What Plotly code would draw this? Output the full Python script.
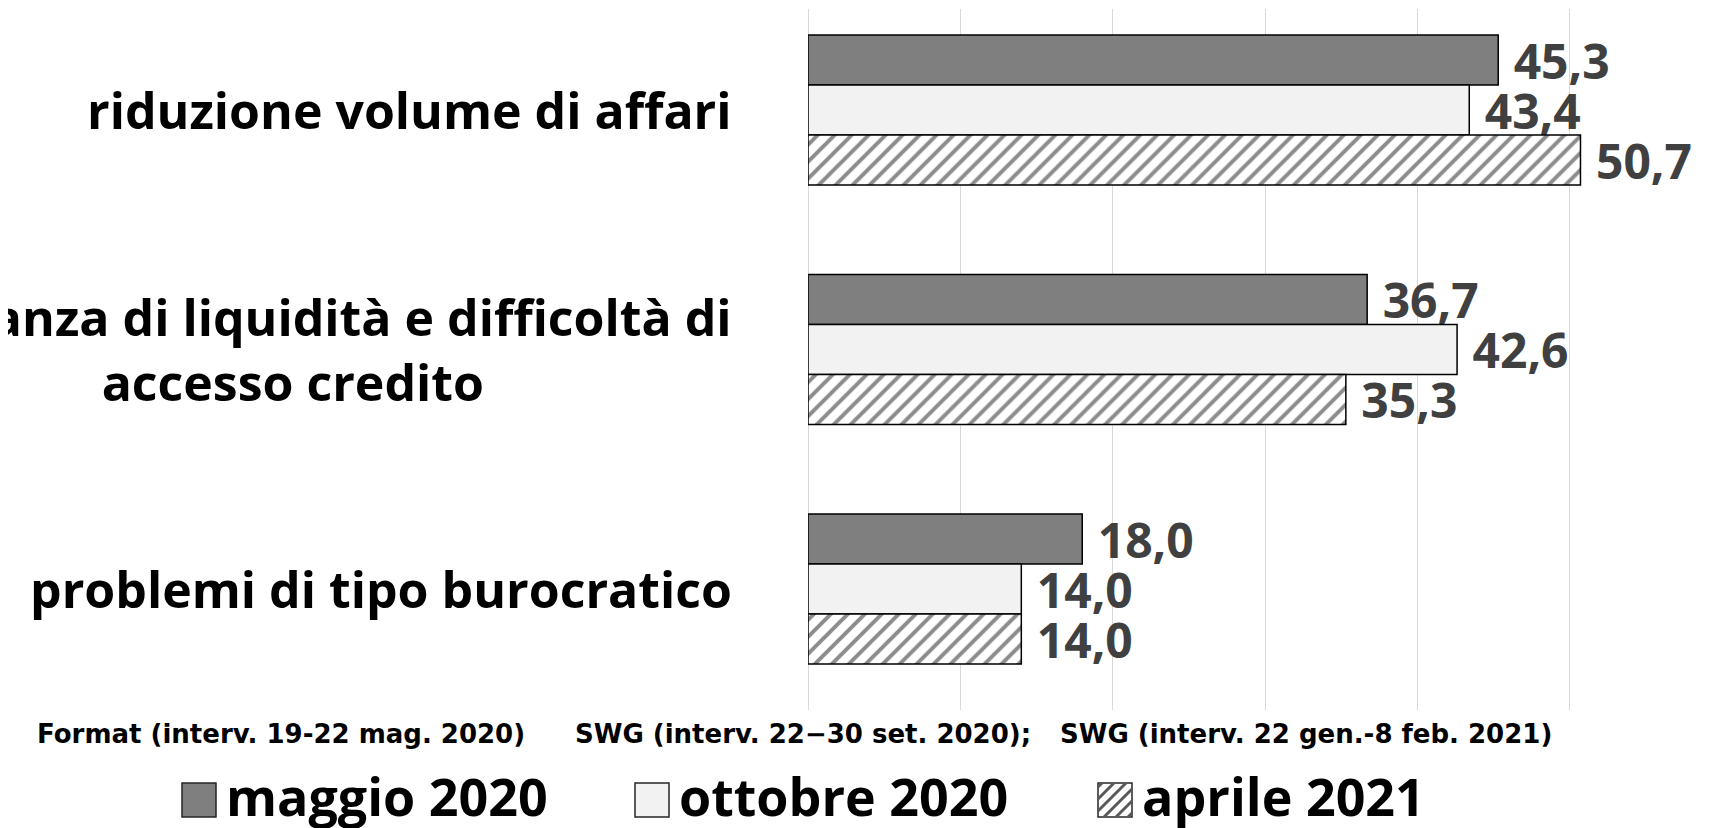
import plotly.graph_objects as go

# categories top to bottom
categories = [
    "riduzione volume di affari",
    "mancanza di liquidità e difficoltà di<br>accesso credito",
    "problemi di tipo burocratico",
]
series_names = ["maggio 2020", "ottobre 2020", "aprile 2021"]
maggio_2020 = [45.3, 36.7, 18.0]
ottobre_2020 = [43.4, 42.6, 14.0]
aprile_2021 = [50.7, 35.3, 14.0]
sources = [
    "Format (interv. 19-22 mag. 2020)",
    "SWG (interv. 22\u221230 set. 2020);",
    "SWG (interv. 22 gen.-8 feb. 2021)",
]

LABEL_FONT = "Open Sans, Lato, sans-serif"
W, H = 1718, 828
L, R, T, B = 800, 80, 1, 126
PW, PH = W - L - R, H - T - B
OFF = 8  # page body margin: the figure sits 8px in from the window corner


def px(xs):
    # window pixel -> paper fraction
    return (xs - OFF - L) / PW


def py(ys):
    return (H - B - (ys - OFF)) / PH


def fmt(vals):
    return ["\u00a0" + f"{v:.1f}".replace(".", ",") for v in vals]


fills = ["#7f7f7f", "#f2f2f2", "#ffffff"]
styles = [
    dict(color=fills[0], line=dict(color="#000000", width=1.5)),
    dict(color=fills[1], line=dict(color="#000000", width=1.5)),
    dict(color=fills[2], line=dict(color="#000000", width=1.5),
         pattern=dict(shape="/", fgcolor="#1a1a1a", bgcolor="#ffffff", size=12, solidity=0.33)),
]

fig = go.Figure()
for name, vals, st in zip(series_names, [maggio_2020, ottobre_2020, aprile_2021], styles):
    fig.add_trace(go.Bar(
        y=categories, x=vals, name=name, orientation="h",
        marker=st,
        text=fmt(vals), textposition="outside", cliponaxis=False,
        constraintext="none",
        outsidetextfont=dict(family=LABEL_FONT, size=48, color="#404040", weight=700),
    ))

# category labels, right of the axis, centred lines
for cat in categories:
    fig.add_annotation(
        x=0, xref="paper", y=cat, yref="y", xanchor="right", yanchor="middle",
        xshift=-74, text=cat, showarrow=False, align="center",
        font=dict(family=LABEL_FONT, size=50, color="#000000", weight=700),
    )

# source notes under the plot
src_x = [35, 573, 1058]
for s, sx in zip(sources, src_x):
    fig.add_annotation(
        x=px(sx), xref="paper", y=py(734), yref="paper",
        xanchor="left", yanchor="middle",
        text=s, showarrow=False,
        font=dict(family="DejaVu Sans", size=26, color="#000000", weight=700),
    )

# legend drawn by hand so the keys can be as large as in the original
key_x = [182, 635, 1098]
key_size = 34
key_top = 783
for i, (name, kx) in enumerate(zip(series_names, key_x)):
    fig.add_shape(type="rect", xref="paper", yref="paper",
                  x0=px(kx), x1=px(kx + key_size), y0=py(key_top + key_size), y1=py(key_top),
                  fillcolor=fills[i], line=dict(color="#262626", width=1.5), layer="above")
    if i == 2:
        # diagonal hatch inside the third key
        step = 12
        c = -key_size + 4
        while c < key_size:
            u0 = max(0, c)
            u1 = min(key_size, c + key_size)
            if u1 - u0 > 2:
                fig.add_shape(type="line", xref="paper", yref="paper",
                              x0=px(kx + u0), y0=py(key_top + key_size - (u0 - c)),
                              x1=px(kx + u1), y1=py(key_top + key_size - (u1 - c)),
                              line=dict(color="#595959", width=3), layer="above")
            c += step
    fig.add_annotation(
        x=px(kx + key_size + 8), xref="paper", y=py(key_top + key_size / 2 - 5), yref="paper",
        xanchor="left", yanchor="middle", text=name, showarrow=False,
        font=dict(family=LABEL_FONT, size=52, color="#000000", weight=700),
    )

fig.update_layout(
    width=W, height=H,
    margin=dict(l=L, r=R, t=T, b=B),
    barmode="group", bargap=0.374, bargroupgap=0,
    plot_bgcolor="#ffffff", paper_bgcolor="#ffffff",
    showlegend=False,
)
fig.update_xaxes(range=[0, 55], dtick=10, tick0=0, showgrid=True, gridcolor="#d9d9d9",
                 gridwidth=1, zeroline=True, zerolinecolor="#d9d9d9", zerolinewidth=1,
                 showticklabels=False, showline=False)
fig.update_yaxes(range=[2.505, -0.422], showticklabels=False, showgrid=False,
                 zeroline=False, showline=False, automargin=False)

fig.write_html("out.html")
